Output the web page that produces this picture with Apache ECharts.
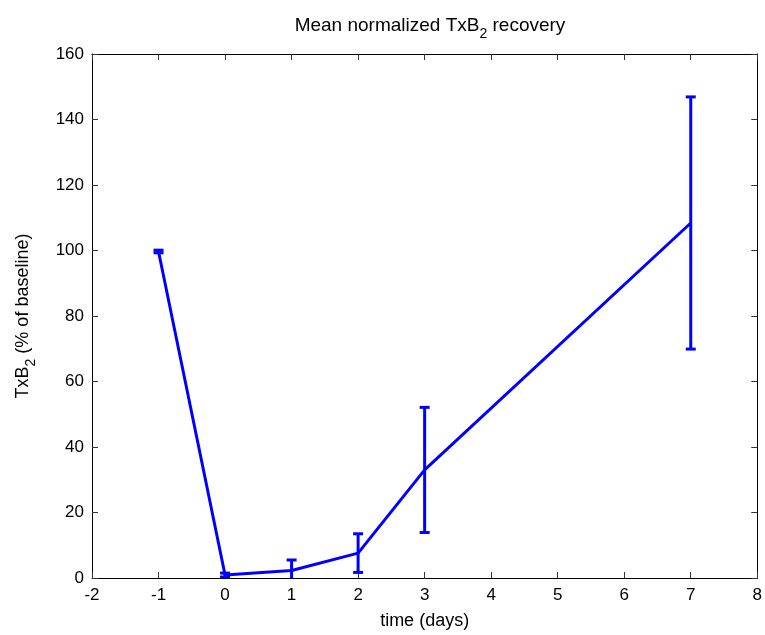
<!DOCTYPE html>
<html>
<head>
<meta charset="utf-8">
<script src="https://cdn.jsdelivr.net/npm/echarts@6/dist/echarts.min.js"></script>
<style>
  html, body { margin: 0; padding: 0; background: #fff; }
  #chart { width: 765px; height: 635px; }
</style>
</head>
<body>
<div id="chart"></div>
<script>
// Days relative to dosing
const days = [-1, 0, 1, 2, 3, 7];
// Mean normalized TxB2 (% of baseline)
const meanTxB2 = [99.7, 0.9, 2.3, 7.6, 33.0, 108.4];
// Error bar half-widths
const errTxB2 = [0.4, 0.6, 3.2, 5.9, 19.1, 38.5];

const xTicks = { min: -2, max: 8, interval: 1 };
const yTicks = { min: 0, max: 160, interval: 20 };

const BLUE = '#0000ff';
const FONT = '"Liberation Sans", Arial, Helvetica, sans-serif';

const lineData = days.map((d, i) => [d, meanTxB2[i]]);
const errData = days.map((d, i) => [d, meanTxB2[i] - errTxB2[i], meanTxB2[i] + errTxB2[i]]);

const chart = echarts.init(document.getElementById('chart'), null, { renderer: 'canvas' });

const axisCommon = {
  type: 'value',
  splitLine: { show: false },
  axisLine: { show: true, onZero: false, lineStyle: { color: '#000', width: 1 } },
  axisTick: { show: true, inside: true, length: 6, lineStyle: { color: '#333', width: 1 } },
  axisLabel: { color: '#000', fontSize: 17, fontFamily: FONT }
};

// Rich-text styles for the subscript "2" in TxB2
const subRich = {
  m: { fontSize: 18, fontFamily: FONT, color: '#000', fontWeight: 'normal', lineHeight: 30 },
  s: { fontSize: 14, fontFamily: FONT, color: '#000', fontWeight: 'normal', lineHeight: 14, verticalAlign: 'bottom' }
};

chart.setOption({
  animation: false,
  backgroundColor: '#fff',
  title: {
    text: '{m|Mean normalized TxB}{s|2}{m| recovery}',
    left: 425,
    textAlign: 'center',
    top: 5,
    textStyle: {
      fontWeight: 'normal',
      rich: {
        m: { fontSize: 19, fontFamily: FONT, color: '#000', fontWeight: 'normal', lineHeight: 31 },
        s: { fontSize: 14, fontFamily: FONT, color: '#000', fontWeight: 'normal', lineHeight: 14, verticalAlign: 'bottom' }
      }
    }
  },
  grid: { left: 92, right: 7, top: 54, bottom: 54, containLabel: false },
  xAxis: [
    Object.assign({}, axisCommon, {
      min: xTicks.min, max: xTicks.max, interval: xTicks.interval,
      position: 'bottom',
      axisLabel: Object.assign({}, axisCommon.axisLabel, { margin: 9 }),
      name: 'time (days)',
      nameLocation: 'middle',
      nameGap: 34,
      nameTextStyle: { color: '#000', fontSize: 18, fontFamily: FONT }
    }),
    Object.assign({}, axisCommon, {
      min: xTicks.min, max: xTicks.max, interval: xTicks.interval,
      position: 'top',
      axisLabel: { show: false }
    })
  ],
  yAxis: [
    Object.assign({}, axisCommon, {
      min: yTicks.min, max: yTicks.max, interval: yTicks.interval,
      position: 'left',
      axisLabel: Object.assign({}, axisCommon.axisLabel, { margin: 8 }),
      name: '{m|TxB}{s|2}{m| (% of baseline)}',
      nameLocation: 'middle',
      nameRotate: 90,
      nameGap: 54,
      nameTextStyle: { rich: subRich }
    }),
    Object.assign({}, axisCommon, {
      min: yTicks.min, max: yTicks.max, interval: yTicks.interval,
      position: 'right',
      axisLabel: { show: false }
    })
  ],
  series: [
    {
      type: 'line',
      data: lineData,
      xAxisIndex: 0,
      yAxisIndex: 0,
      symbol: 'none',
      lineStyle: { color: BLUE, width: 3 },
      clip: true,
      z: 3
    },
    {
      type: 'custom',
      xAxisIndex: 0,
      yAxisIndex: 0,
      data: errData,
      clip: true,
      z: 4,
      renderItem: function (params, api) {
        const x = api.value(0);
        const lo = api.coord([x, api.value(1)]);
        const hi = api.coord([x, api.value(2)]);
        const half = 5;
        const style = { stroke: BLUE, lineWidth: 3, fill: null };
        return {
          type: 'group',
          children: [
            { type: 'line', shape: { x1: lo[0], y1: lo[1], x2: hi[0], y2: hi[1] }, style: style },
            { type: 'line', shape: { x1: hi[0] - half, y1: hi[1], x2: hi[0] + half, y2: hi[1] }, style: style },
            { type: 'line', shape: { x1: lo[0] - half, y1: lo[1], x2: lo[0] + half, y2: lo[1] }, style: style }
          ]
        };
      }
    }
  ]
});
</script>
</body>
</html>
